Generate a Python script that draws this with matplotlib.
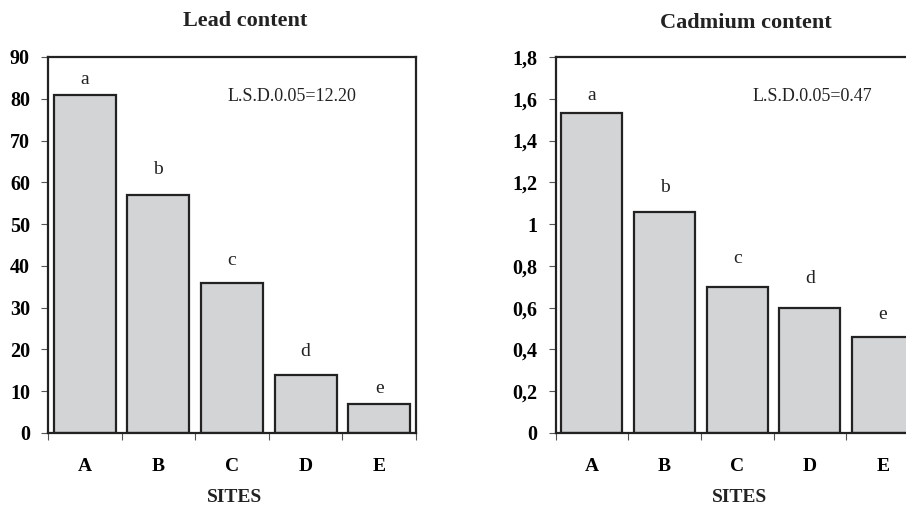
import numpy as np
import matplotlib
matplotlib.use('Agg')
import matplotlib.pyplot as plt

# Data
sites = ['A', 'B', 'C', 'D', 'E']
lead = [81, 57, 36, 14, 7]
cadmium = [1.53, 1.06, 0.70, 0.60, 0.46]
letters = ['a', 'b', 'c', 'd', 'e']
lead_lsd = 'L.S.D.0.05=12.20'
cd_lsd = 'L.S.D.0.05=0.47'

plt.rcParams['font.family'] = ['Liberation Serif', 'DejaVu Serif']

W, H = 906, 505
fig = plt.figure(figsize=(W / 100, H / 100), dpi=100)

edge = '#222222'
fill = '#d3d4d6'


def px_axes(left, top, right, bottom):
    return fig.add_axes([left / W, 1 - bottom / H, (right - left) / W, (bottom - top) / H])


def draw_panel(ax, values, ymax, ystep, fmt, lsd, lsd_pos, offsets):
    x = np.arange(len(values))
    ax.bar(x, values, width=0.84, color=fill, edgecolor=edge, linewidth=1.6, zorder=2)
    ax.set_xlim(-0.5, len(values) - 0.5)
    ax.set_ylim(0, ymax)
    yt = np.arange(0, ymax + ystep / 2, ystep)
    ax.set_yticks(yt)
    ax.set_yticklabels([fmt(v) for v in yt], fontweight='bold', fontsize=14.5)
    ax.set_xticks(x)
    ax.set_xticklabels(sites, fontweight='bold', fontsize=14)
    ax.set_xticks(np.arange(-0.5, len(values)), minor=True)
    ax.tick_params(axis='x', which='major', length=0, pad=18)
    ax.tick_params(axis='x', which='minor', length=5, width=0.8, color='#555555', direction='out')
    ax.tick_params(axis='y', length=5, width=0.8, color='#555555', direction='out', pad=8)
    for s in ax.spines.values():
        s.set_linewidth(1.6)
        s.set_color(edge)
    for i, (v, l) in enumerate(zip(values, letters)):
        ax.annotate(l, xy=(i, v), xytext=(0, offsets[i]), textcoords='offset points',
                    ha='center', va='baseline', fontsize=14, color='#222222')
    ax.text(lsd_pos[0], lsd_pos[1], lsd, transform=ax.transAxes, ha='left', va='center',
            fontsize=13, color='#222222')


ax1 = px_axes(48, 57, 416, 433)
draw_panel(ax1, lead, 90, 10, lambda v: f'{v:.0f}', lead_lsd, (0.487, 0.896),
           [7.5, 15, 12.5, 13, 8])

ax2 = px_axes(555.5, 57, 919, 433)
draw_panel(ax2, cadmium, 1.8, 0.2,
           lambda v: '0' if v == 0 else ('1' if abs(v - 1) < 1e-9 else f'{v:.1f}'.replace('.', ',')),
           cd_lsd, (0.543, 0.896), [9.5, 14, 17, 17.5, 13])

fig.text(245 / W, 1 - 21 / H, 'Lead content', ha='center', va='center',
         fontsize=16, fontweight='bold', color='#222222')
fig.text(746 / W, 1 - 23 / H, 'Cadmium content', ha='center', va='center',
         fontsize=16, fontweight='bold', color='#222222')
fig.text(235 / W, 1 - 498 / H, 'SITES', ha='center', va='center',
         fontsize=14, fontweight='bold', color='#222222')
fig.text(740 / W, 1 - 498 / H, 'SITES', ha='center', va='center',
         fontsize=14, fontweight='bold', color='#222222')

fig.savefig('out.png', dpi=100)
